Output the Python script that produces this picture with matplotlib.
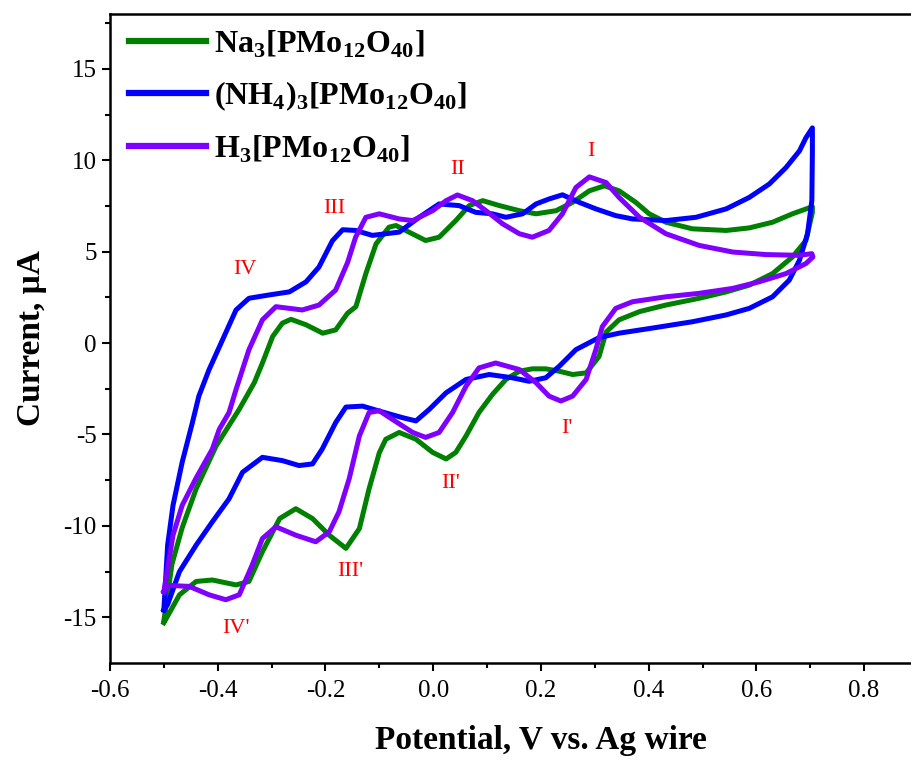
import matplotlib.pyplot as plt

plt.rcParams['font.family'] = ['Liberation Serif', 'DejaVu Serif']
plt.rcParams['mathtext.fontset'] = 'custom'
plt.rcParams['mathtext.rm'] = 'Liberation Serif'
plt.rcParams['mathtext.bf'] = 'Liberation Serif:bold'

# Na3[PMo12O40] - forward (anodic) then reverse (cathodic) sweep
na_x = [-0.5, -0.485, -0.466, -0.44, -0.403, -0.36, -0.332, -0.317, -0.298, -0.28,
        -0.264, -0.236, -0.205, -0.181, -0.159, -0.1435, -0.125, -0.106, -0.082, -0.069,
        -0.045, -0.014, 0.011, 0.042, 0.067, 0.092, 0.123, 0.16, 0.191, 0.228,
        0.259, 0.29, 0.318, 0.345, 0.376, 0.401, 0.432, 0.481, 0.544, 0.587,
        0.63, 0.667, 0.704,
        0.704, 0.692, 0.667, 0.63, 0.587, 0.544, 0.494, 0.432, 0.383, 0.345,
        0.321, 0.308, 0.284, 0.259, 0.234, 0.209, 0.184, 0.16, 0.135, 0.11,
        0.085, 0.061, 0.042, 0.024, -0.001, -0.032, -0.063, -0.088, -0.1, -0.119,
        -0.137, -0.162, -0.193, -0.224, -0.255, -0.285, -0.317, -0.342, -0.366, -0.41,
        -0.44, -0.471, -0.5]
na_y = [-15.2, -12.1, -10.1, -7.97, -5.63, -3.62, -2.16, -1.09, 0.36, 1.09,
        1.3, 1.0, 0.54, 0.72, 1.63, 1.99, 3.8, 5.43, 6.34, 6.43,
        6.07, 5.61, 5.79, 6.7, 7.52, 7.79, 7.52, 7.24, 7.07, 7.24,
        7.7, 8.33, 8.6, 8.33, 7.7, 7.07, 6.61, 6.25, 6.16, 6.3,
        6.61, 7.07, 7.46,
        7.15, 5.61, 4.71, 3.8, 3.17, 2.8, 2.45, 2.08, 1.72, 1.27,
        0.6, -0.73, -1.63, -1.72, -1.54, -1.41, -1.41, -1.54, -1.99, -2.81,
        -3.8, -5.08, -5.98, -6.34, -5.98, -5.26, -4.89, -5.26, -6.0, -7.97,
        -10.15, -11.23, -10.51, -9.6, -9.06, -9.6, -11.41, -13.04, -13.23, -12.96,
        -13.04, -13.77, -15.3]

# (NH4)3[PMo12O40]
nh_x = [-0.5, -0.493, -0.483, -0.466, -0.447, -0.435, -0.416, -0.391, -0.366, -0.342,
        -0.305, -0.267, -0.236, -0.212, -0.187, -0.168, -0.144, -0.113, -0.063, -0.026,
        0.011, 0.048, 0.079, 0.11, 0.135, 0.166, 0.191, 0.215, 0.24, 0.271,
        0.302, 0.339, 0.37, 0.432, 0.488, 0.544, 0.587, 0.624, 0.655, 0.68,
        0.692, 0.704,
        0.704, 0.703, 0.695, 0.68, 0.661, 0.63, 0.587, 0.544, 0.482, 0.407,
        0.345, 0.308, 0.265, 0.234, 0.209, 0.178, 0.147, 0.104, 0.061, 0.024,
        -0.007, -0.032, -0.057, -0.1, -0.131, -0.162, -0.181, -0.206, -0.224, -0.249,
        -0.28, -0.317, -0.354, -0.379, -0.41, -0.44, -0.471, -0.493, -0.5]
nh_y = [-14.6, -11.05, -8.88, -6.52, -4.35, -2.9, -1.45, 0.18, 1.81, 2.45,
        2.63, 2.8, 3.35, 4.16, 5.6, 6.2, 6.16, 5.89, 6.07, 6.88,
        7.61, 7.52, 7.15, 7.07, 6.88, 7.07, 7.61, 7.88, 8.11, 7.7,
        7.34, 6.97, 6.79, 6.7, 6.88, 7.34, 7.97, 8.7, 9.6, 10.51,
        11.23, 11.77,
        10.51, 7.79, 5.98, 4.53, 3.44, 2.53, 1.9, 1.54, 1.17, 0.82,
        0.54, 0.3, -0.36, -1.27, -1.9, -2.09, -1.9, -1.72, -1.99, -2.72,
        -3.62, -4.26, -4.08, -3.72, -3.45, -3.5, -4.35, -5.8, -6.61, -6.7,
        -6.43, -6.25, -7.07, -8.52, -9.78, -11.05, -12.5, -14.3, -14.6]

# H3[PMo12O40]
h_x = [-0.5, -0.483, -0.466, -0.441, -0.41, -0.397, -0.379, -0.366, -0.342, -0.317,
       -0.292, -0.243, -0.212, -0.181, -0.159, -0.144, -0.125, -0.1, -0.063, -0.038,
       -0.001, 0.024, 0.045, 0.073, 0.098, 0.129, 0.16, 0.184, 0.215, 0.24,
       0.265, 0.29, 0.321, 0.345, 0.383, 0.432, 0.494, 0.556, 0.618, 0.68,
       0.703,
       0.705, 0.692, 0.655, 0.605, 0.556, 0.494, 0.432, 0.37, 0.339, 0.314,
       0.302, 0.284, 0.259, 0.237, 0.215, 0.191, 0.16, 0.116, 0.085, 0.061,
       0.036, 0.011, -0.014, -0.038, -0.076, -0.1, -0.119, -0.137, -0.156, -0.175,
       -0.193, -0.218, -0.255, -0.292, -0.317, -0.336, -0.36, -0.385, -0.416, -0.453,
       -0.49, -0.5]
h_y = [-13.6, -10.51, -8.88, -7.43, -5.8, -4.71, -3.8, -2.54, -0.36, 1.27,
       1.99, 1.81, 2.08, 2.9, 4.4, 5.79, 6.88, 7.07, 6.79, 6.7,
       7.24, 7.79, 8.1, 7.79, 7.24, 6.52, 5.98, 5.79, 6.16, 7.07,
       8.51, 9.09, 8.78, 7.97, 6.88, 5.98, 5.34, 4.98, 4.84, 4.8,
       4.89,
       4.71, 4.35, 3.8, 3.35, 2.99, 2.72, 2.53, 2.26, 1.9, 0.9,
       -0.36, -1.99, -2.9, -3.17, -2.9, -2.17, -1.45, -1.09, -1.36, -2.36,
       -3.8, -4.89, -5.16, -4.89, -4.17, -3.7, -3.8, -5.08, -7.43, -9.24,
       -10.33, -10.87, -10.51, -10.05, -10.69, -12.14, -13.77, -14.04, -13.77, -13.31,
       -13.26, -13.6]

peak_labels = ['I', 'II', 'III', 'IV', "I'", "II'", "III'", "IV'"]
peak_x = [0.293, 0.046, -0.184, -0.349, 0.249, 0.033, -0.154, -0.366]
peak_y = [10.5, 9.5, 7.35, 4.0, -4.7, -7.7, -12.5, -15.6]

fig = plt.figure(figsize=(9.12, 7.61), dpi=100)
ax = fig.add_axes([0.1206, 0.1288, 0.945, 0.8528])

ax.plot(na_x, na_y, color='#008000', lw=3.6, solid_joinstyle='round',
        label=r'Na$_\mathbf{3}$[PMo$_\mathbf{12}$O$_\mathbf{40}$]')
ax.plot(nh_x, nh_y, color='#0000ff', lw=3.6, solid_joinstyle='round',
        label=r'(NH$_\mathbf{4}$)$_\mathbf{3}$[PMo$_\mathbf{12}$O$_\mathbf{40}$]')
ax.plot(h_x, h_y, color='#8000ff', lw=3.6, solid_joinstyle='round',
        label=r'H$_\mathbf{3}$[PMo$_\mathbf{12}$O$_\mathbf{40}$]')

for lab, px, py in zip(peak_labels, peak_x, peak_y):
    ax.text(px, py, lab, color='red', fontsize=16, ha='center', va='center')

ax.set_xlim(-0.6, 1.0)
ax.set_ylim(-17.5, 18)
ax.set_xticks([-0.6, -0.4, -0.2, 0.0, 0.2, 0.4, 0.6, 0.8])
ax.set_xticks([-0.5, -0.3, -0.1, 0.1, 0.3, 0.5, 0.7, 0.9], minor=True)
ax.set_yticks([-15, -10, -5, 0, 5, 10, 15])
ax.set_yticks([-12.5, -7.5, -2.5, 2.5, 7.5, 12.5, 17.5], minor=True)
ax.set_xticklabels(['-0.6', '-0.4', '-0.2', '0.0', '0.2', '0.4', '0.6', '0.8'])
ax.set_yticklabels(['-15', '-10', '-5', '0', '5', '10', '15'])
ax.tick_params(which='major', direction='out', length=6, width=1.5, labelsize=18)
ax.tick_params(axis='x', which='major', pad=6)
ax.tick_params(which='minor', direction='out', length=3.5, width=1.5)
for s in ax.spines.values():
    s.set_linewidth(1.8)

ax.set_xlabel('Potential, V vs. Ag wire', fontsize=24, fontweight='bold', labelpad=17)
ax.set_ylabel('Current, \u03bcA', fontsize=24, fontweight='bold', labelpad=12)

leg = ax.legend(loc='upper left', frameon=False, prop={'size': 23, 'weight': 'bold'},
                handlelength=2.4, handletextpad=0.25, labelspacing=0.62,
                borderaxespad=0.2, bbox_to_anchor=(0.0, 1.007))
for h in leg.get_lines():
    h.set_linewidth(4.5)

fig.savefig('out.png', dpi=100)
